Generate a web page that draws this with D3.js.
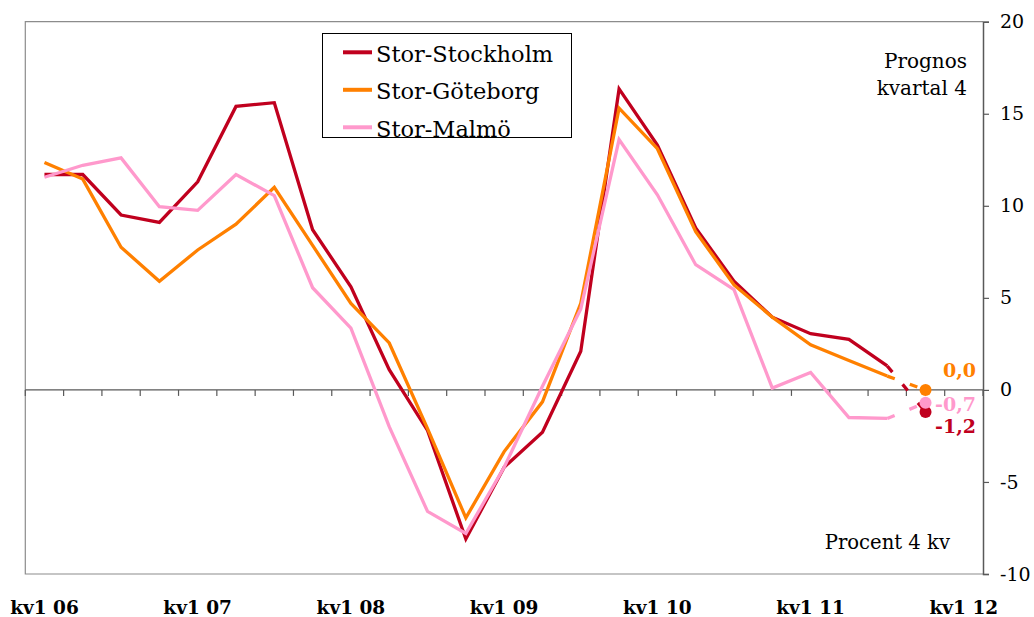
<!DOCTYPE html>
<html lang="sv">
  <head>
    <meta charset="utf-8">
    <title>Prognos kvartal 4</title>
    <script src="https://cdn.jsdelivr.net/npm/d3@7/dist/d3.min.js"></script>
    <style>
      body { margin: 0; background: #fff; }
      svg text { font-family: "DejaVu Serif", serif; fill: #000; }
    </style>
  </head>
  <body>
    <div id="chart"></div>
    <script>
      // kvartal kv1 06 .. kv1 12 (25 categories), values for the first 24
      var quarters = [];
      ["06", "07", "08", "09", "10", "11"].forEach(function(yy) {
        for (var q = 1; q <= 4; q++) quarters.push("kv" + q + " " + yy);
      });
      quarters.push("kv1 12");

      var stockholm = [11.7, 11.7, 9.5, 9.1, 11.3, 15.4, 15.6, 8.7, 5.6, 1.1, -2.2, -8.1,
                       -4.2, -2.3, 2.1, 16.35, 13.3, 8.8, 5.9, 3.95, 3.05, 2.75, 1.3];
      var goteborg  = [12.35, 11.45, 7.75, 5.9, 7.6, 9.0, 11.0, 7.85, 4.7, 2.55, -2.1, -6.95,
                       -3.35, -0.65, 4.7, 15.3, 13.1, 8.6, 5.7, 3.95, 2.45, 1.6, 0.75];
      var malmo     = [11.55, 12.2, 12.6, 9.95, 9.75, 11.7, 10.55, 5.55, 3.35, -2.0, -6.6, -7.8,
                       -4.2, 0.2, 4.4, 13.6, 10.6, 6.8, 5.45, 0.1, 0.95, -1.5, -1.55];
      // prognos kvartal 4 2011
      var forecast = [-1.2, 0.0, -0.7];
      var forecastLabels = ["-1,2", "0,0", "-0,7"];

      var names = ["Stor-Stockholm", "Stor-Göteborg", "Stor-Malmö"];
      var colors = ["#c0001e", "#ff8000", "#ff99cc"];
      var yTicks = [-10, -5, 0, 5, 10, 15, 20];

      var width = 1034, height = 617;
      var plotLeft = 25.3, plotRight = 983, plotTop = 21.7, plotBottom = 574;

      var svg = d3.select("#chart").append("svg")
          .attr("width", width)
          .attr("height", height);

      var x = d3.scaleBand()
          .domain(d3.range(quarters.length))
          .range([plotLeft, plotRight])
          .padding(0);

      var y = d3.scaleLinear()
          .domain([-10, 20])
          .range([plotBottom, plotTop]);

      function cx(i) { return x(i) + x.bandwidth() / 2; }

      // plot frame
      svg.append("path")
          .attr("d", "M" + plotRight + "," + plotTop + "H" + plotLeft + "V" + plotBottom + "H" + plotRight)
          .attr("fill", "none")
          .attr("stroke", "#8c8c8c")
          .attr("stroke-width", 1.2);

      // right value axis
      var yAxis = svg.append("g")
          .attr("transform", "translate(" + plotRight + ",0)")
          .call(d3.axisRight(y).tickValues(yTicks).tickSize(6).tickPadding(11)
              .tickFormat(function(d) { return d < 0 ? "-" + Math.abs(d) : d; }));
      yAxis.select(".domain").attr("stroke", "#595959").attr("stroke-width", 1.5);
      yAxis.selectAll(".tick line").attr("stroke", "#595959").attr("stroke-width", 1.2);
      yAxis.selectAll("text")
          .style("font-family", "DejaVu Serif")
          .style("font-size", "19px")
          .attr("fill", "#000");

      // zero line with category ticks
      var bounds = d3.range(quarters.length).map(function(i) { return x(i); }).concat([x.range()[1]]);
      svg.append("line")
          .attr("x1", plotLeft).attr("x2", plotRight)
          .attr("y1", y(0)).attr("y2", y(0))
          .attr("stroke", "#595959").attr("stroke-width", 1.2);
      svg.selectAll(".xtick")
        .data(bounds)
        .enter().append("line")
          .attr("class", "xtick")
          .attr("x1", function(d) { return d; }).attr("x2", function(d) { return d; })
          .attr("y1", y(0)).attr("y2", y(0) + 6)
          .attr("stroke", "#595959").attr("stroke-width", 1.2);

      // category labels (only first quarter of each year)
      svg.selectAll(".xlabel")
        .data(d3.range(quarters.length).filter(function(i) { return quarters[i].indexOf("kv1") === 0; }))
        .enter().append("text")
          .attr("class", "xlabel")
          .attr("x", cx)
          .attr("y", 614)
          .attr("text-anchor", "middle")
          .style("font-size", "18.5px")
          .style("font-weight", "bold")
          .text(function(i) { return quarters[i]; });

      var series = [stockholm, goteborg, malmo];
      var line = d3.line()
          .x(function(d, i) { return cx(i); })
          .y(function(d) { return y(d); });

      series.forEach(function(s, k) {
        svg.append("path")
            .datum(s)
            .attr("d", line)
            .attr("fill", "none")
            .attr("stroke", colors[k])
            .attr("stroke-width", 3.3)
            .attr("stroke-linejoin", "miter");
      });

      // dashed step to the forecast and the forecast dot
      series.forEach(function(s, k) {
        var last = s.length - 1;
        svg.append("line")
            .attr("x1", cx(last)).attr("y1", y(s[last]))
            .attr("x2", cx(last + 1)).attr("y2", y(forecast[k]))
            .attr("stroke", colors[k])
            .attr("stroke-width", 3.3)
            .attr("stroke-dasharray", "8,16");
      });
      series.forEach(function(s, k) {
        svg.append("circle")
            .attr("cx", cx(s.length))
            .attr("cy", y(forecast[k]))
            .attr("r", 6)
            .attr("fill", colors[k]);
      });

      var labelY = [432.5, 376.7, 410.5];
      forecastLabels.forEach(function(t, k) {
        svg.append("text")
            .attr("x", 976)
            .attr("y", labelY[k])
            .attr("text-anchor", "end")
            .style("font-size", "19px")
            .style("font-weight", "bold")
            .style("fill", colors[k])
            .text(t);
      });

      // annotations
      svg.append("text").attr("x", 967).attr("y", 68).attr("text-anchor", "end")
          .style("font-size", "20px").text("Prognos");
      svg.append("text").attr("x", 967).attr("y", 95).attr("text-anchor", "end")
          .style("font-size", "20px").text("kvartal 4");
      svg.append("text").attr("x", 950).attr("y", 549).attr("text-anchor", "end")
          .style("font-size", "19.6px").text("Procent 4 kv");

      // legend
      var legend = svg.append("g");
      legend.append("rect")
          .attr("x", 322.5).attr("y", 33.5)
          .attr("width", 249).attr("height", 104)
          .attr("fill", "#fff")
          .attr("stroke", "#000").attr("stroke-width", 1);
      names.forEach(function(n, k) {
        var ly = 52.3 + k * 37.5;
        legend.append("line")
            .attr("x1", 343).attr("x2", 372)
            .attr("y1", ly).attr("y2", ly)
            .attr("stroke", colors[k]).attr("stroke-width", 4);
        legend.append("text")
            .attr("x", 376).attr("y", ly + 9.4)
            .style("font-size", "22.5px")
            .text(n);
      });
    </script>
  </body>
</html>
